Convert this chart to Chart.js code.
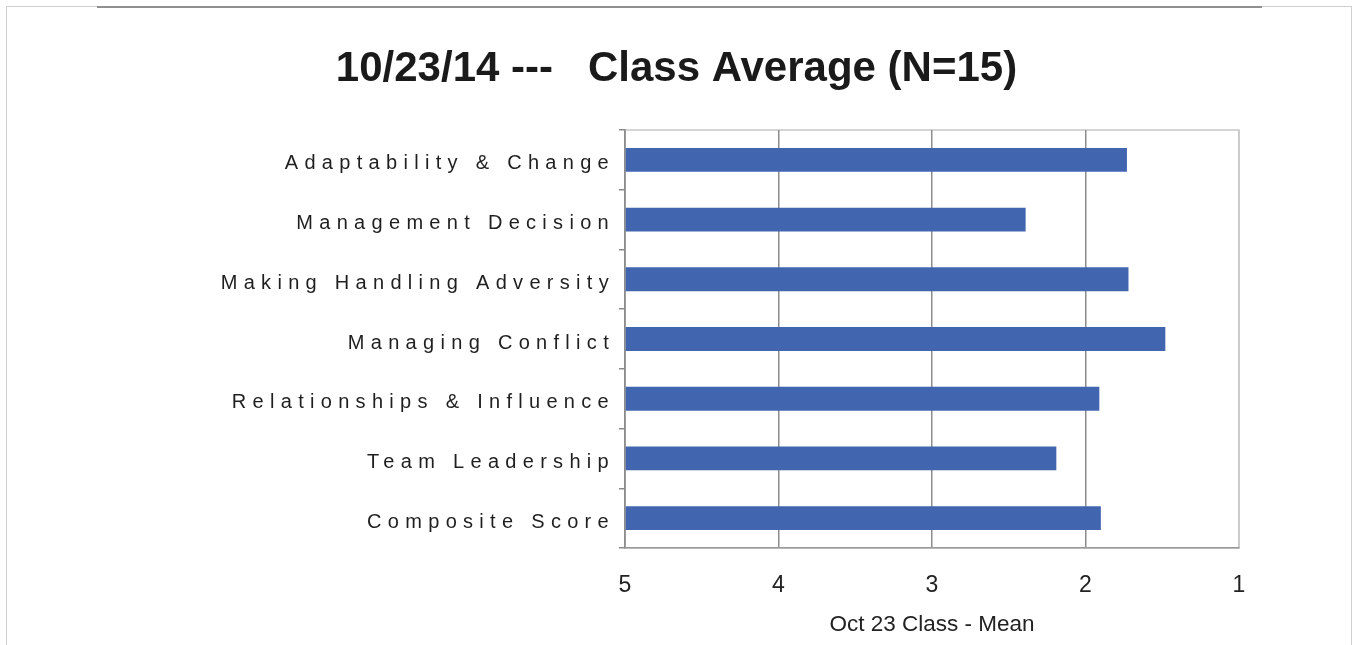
<!DOCTYPE html>
<html>
<head>
<meta charset="utf-8">
<script src="https://cdn.jsdelivr.net/npm/chart.js@4"></script>
<style>
  html, body { margin: 0; padding: 0; background: #fff; }
  #wrap { position: relative; width: 1353px; height: 645px; overflow: hidden; }
  #frame { position: absolute; left: 6px; top: 6px; width: 1344px; height: 660px; border: 1px solid #cfcfcf; }
  #topline { position: absolute; left: 97px; top: 6px; width: 1165px; height: 2px; background: #8f8f8f; }
  canvas { position: absolute; left: 0; top: 0; }
</style>
</head>
<body>
<div id="wrap">
  <div id="frame"></div>
  <div id="topline"></div>
  <canvas id="chart" width="1353" height="645"></canvas>
</div>
<script>
const categories = [
  "Adaptability & Change",
  "Management Decision",
  "Making Handling Adversity",
  "Managing Conflict",
  "Relationships & Influence",
  "Team Leadership",
  "Composite Score"
];
const classMean = [1.73, 2.39, 1.72, 1.48, 1.91, 2.19, 1.90];
const xTicks = [5, 4, 3, 2, 1];

const FONT = "'Liberation Sans', Arial, sans-serif";

// light frame around the plot area, scales draw over left/bottom
const plotFrame = {
  id: "plotFrame",
  beforeDraw(chart) {
    const { ctx, chartArea: a } = chart;
    ctx.save();
    ctx.strokeStyle = "#c8c8c8";
    ctx.lineWidth = 1.5;
    ctx.strokeRect(a.left, a.top, a.right - a.left, a.bottom - a.top);
    ctx.restore();
  }
};

// spaced-out category labels (y ticks are drawn on layer z=1, after datasets)
const spacedLabels = {
  id: "spacedLabels",
  afterDatasetsDraw(chart) { chart.ctx.letterSpacing = "6.3px"; },
  afterDraw(chart) { chart.ctx.letterSpacing = "0px"; }
};

new Chart(document.getElementById("chart"), {
  type: "bar",
  data: {
    labels: categories,
    datasets: [{
      label: "Oct 23 Class - Mean",
      data: classMean,
      base: 5,
      backgroundColor: "#4265b0",
      borderWidth: 0,
      barPercentage: 0.4,
      categoryPercentage: 1
    }]
  },
  plugins: [plotFrame, spacedLabels],
  options: {
    indexAxis: "y",
    responsive: false,
    animation: false,
    layout: { padding: 0 },
    plugins: {
      legend: { display: false },
      tooltip: { enabled: false },
      title: {
        display: true,
        text: "10/23/14 ---   Class Average (N=15)",
        color: "#1a1a1a",
        font: { family: FONT, size: 42, weight: "bold", lineHeight: 1.2 },
        padding: { top: 44, bottom: 35.6 }
      }
    },
    scales: {
      x: {
        type: "linear",
        reverse: true,
        min: 1,
        max: 5,
        afterBuildTicks: (scale) => { scale.ticks = xTicks.map(v => ({ value: v })); },
        afterFit: (scale) => { scale.height = 97; },
        grid: {
          drawTicks: false,
          color: (c) => (c.tick && c.tick.value === 1 ? "#c8c8c8" : "#8c8c8c"),
          lineWidth: 1.5
        },
        border: { color: "#9a9a9a", width: 1.5 },
        ticks: {
          padding: 24,
          color: "#222",
          font: { family: FONT, size: 23 }
        },
        title: {
          display: true,
          text: "Oct 23 Class - Mean",
          color: "#222",
          font: { family: FONT, size: 22.5, lineHeight: 1.2 },
          padding: { top: 0, bottom: 6.4 }
        }
      },
      y: {
        type: "category",
        afterFit: (scale) => { scale.width = 625; },
        grid: {
          offset: true,
          drawOnChartArea: false,
          drawTicks: true,
          tickLength: 6,
          color: "#8c8c8c",
          lineWidth: 1.5
        },
        border: { color: "#8c8c8c", width: 1.5 },
        ticks: {
          z: 1,
          padding: 4,
          labelOffset: 4,
          color: "#1f1f1f",
          autoSkip: false,
          font: { family: FONT, size: 20 }
        }
      },
      y2: {
        type: "linear",
        position: "right",
        afterFit: (scale) => { scale.width = 114; },
        grid: { display: false },
        border: { display: false },
        ticks: { display: false }
      }
    }
  }
});
</script>
</body>
</html>
